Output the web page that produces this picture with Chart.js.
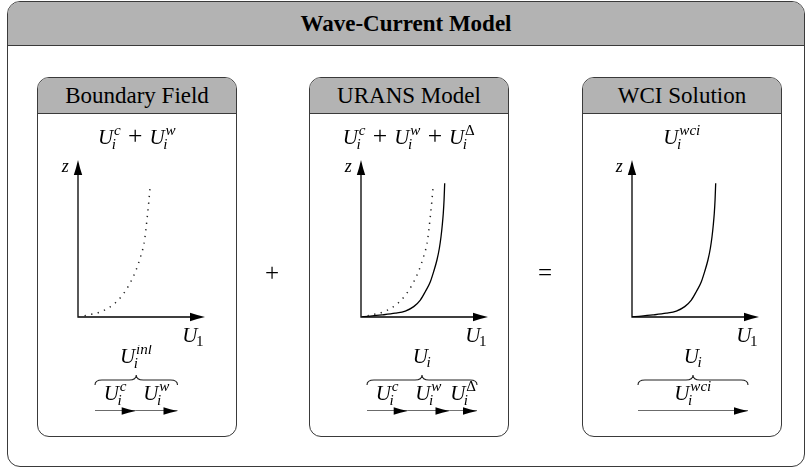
<!DOCTYPE html>
<html>
<head>
<meta charset="utf-8">
<script src="https://cdn.jsdelivr.net/npm/chart.js@4/dist/chart.umd.min.js"></script>
<style>
  html, body { margin: 0; padding: 0; background: #fff; }
  #stage { position: relative; width: 812px; height: 470px; overflow: hidden;
           font-family: "Liberation Serif", "DejaVu Serif", serif; color: #000; }
  .box { position: absolute; box-sizing: border-box; border: 1.3px solid #3a3a3a;
         border-radius: 12px; overflow: hidden; background: #fff; }
  .box .head { position: absolute; left: 0; right: 0; top: 0; box-sizing: border-box;
               background: #b3b3b3; border-bottom: 1.3px solid #3a3a3a; text-align: center; color: #000; }
  #frame { left: 7px; top: 1px; width: 798px; height: 466px; border-radius: 13px; }
  #frame .head { height: 44px; line-height: 44px; font-size: 23px; font-weight: bold; }
  .panel { top: 77px; width: 200px; height: 360px; }
  .panel .head { height: 36px; line-height: 35px; font-size: 23px; }
  canvas { position: absolute; }
</style>
</head>
<body>
<div id="stage">
  <div class="box" id="frame"><div class="head">Wave-Current Model</div></div>
</div>
<script>
// ---- content -------------------------------------------------------------
const diagramTitle = 'Wave-Current Model';
const panelTitles = ['Boundary Field', 'URANS Model', 'WCI Solution'];
const operators = ['+', '='];

// velocity profiles U1(z), normalised to the axis length
const boundaryU = [0, 0.081, 0.181, 0.273, 0.352, 0.409, 0.457, 0.491, 0.520, 0.535, 0.546, 0.557, 0.567];
const boundaryZ = [0, 0.013, 0.034, 0.076, 0.142, 0.215, 0.299, 0.380, 0.469, 0.559, 0.643, 0.731, 0.820];
const wciU = [0, 0.165, 0.270, 0.349, 0.415, 0.467, 0.506, 0.546, 0.572, 0.598, 0.617, 0.630, 0.640, 0.648, 0.654, 0.659];
const wciZ = [0, 0.013, 0.024, 0.038, 0.066, 0.108, 0.161, 0.225, 0.289, 0.363, 0.438, 0.511, 0.586, 0.661, 0.745, 0.852];

// velocity components added up in each panel
const boundaryParts = [0.37, 0.38];
const boundaryPartNames = ['c', 'w'];
const uransParts = [0.37, 0.38, 0.25];
const uransPartNames = ['c', 'w', '\u0394'];
const wciParts = [1.0];
const wciPartNames = ['wci'];
const totalNames = ['inl', null, null];

// ---- layout --------------------------------------------------------------
const FONT = '"Liberation Serif", "DejaVu Serif", serif';
const MATH = 21;
const panelLeft = [37, 309, 582];
const axisLeft = [78, 361, 632];
const vectorLeft = [95, 367, 638];
const opCenters = [[272, 274], [545, 274]];

const stage = document.getElementById('stage');
document.querySelector('#frame .head').textContent = diagramTitle;

panelTitles.forEach((t, i) => {
  const p = document.createElement('div');
  p.className = 'box panel';
  p.style.left = panelLeft[i] + 'px';
  const h = document.createElement('div');
  h.className = 'head';
  h.textContent = t;
  p.appendChild(h);
  stage.appendChild(p);
});

// ---- math text on canvas -------------------------------------------------
function fontFor(txt, size) {
  return (/[A-Za-z]/.test(txt) ? 'italic ' : '') + size + 'px ' + FONT;
}
function layoutMath(ctx, tokens, size) {
  const s = size * 0.72, items = [];
  let x = 0;
  for (const t of tokens) {
    if (t.op) {
      ctx.font = (size * 1.22) + 'px ' + FONT;
      const w = ctx.measureText(t.op).width, g = size * 0.33;
      items.push({ text: t.op, font: ctx.font, x: x + g, dy: 0 });
      x += w + 2 * g;
      continue;
    }
    ctx.font = fontFor(t.b, size);
    const wb = ctx.measureText(t.b).width;
    items.push({ text: t.b, font: ctx.font, x: x, dy: 0 });
    let end = x + wb;
    if (t.sup) {
      ctx.font = fontFor(t.sup, s);
      const sx = x + wb + size * 0.04;
      items.push({ text: t.sup, font: ctx.font, x: sx, dy: -size * 0.42 });
      end = Math.max(end, sx + ctx.measureText(t.sup).width);
    }
    if (t.sub) {
      ctx.font = fontFor(t.sub, s);
      const sx = x + wb - size * 0.07;
      items.push({ text: t.sub, font: ctx.font, x: sx, dy: t.sup ? size * 0.26 : size * 0.18 });
      end = Math.max(end, sx + ctx.measureText(t.sub).width);
    }
    x = end + size * 0.02;
  }
  return { items, width: x };
}
function drawMath(ctx, tokens, x, baseline, size, align) {
  const L = layoutMath(ctx, tokens, size);
  const x0 = align === 'right' ? x - L.width : x - L.width / 2;
  ctx.save();
  ctx.fillStyle = '#000';
  ctx.textAlign = 'left';
  ctx.textBaseline = 'alphabetic';
  for (const it of L.items) {
    ctx.font = it.font;
    ctx.fillText(it.text, x0 + it.x, baseline + it.dy);
  }
  ctx.restore();
}
function arrowHead(ctx, tx, ty, dx, dy, len, half) {
  const px = -dy, py = dx;
  ctx.beginPath();
  ctx.moveTo(tx, ty);
  ctx.quadraticCurveTo(tx - dx * len * 0.55 + px * half * 0.45, ty - dy * len * 0.55 + py * half * 0.45,
                       tx - dx * len + px * half, ty - dy * len + py * half);
  ctx.lineTo(tx - dx * len - px * half, ty - dy * len - py * half);
  ctx.quadraticCurveTo(tx - dx * len * 0.55 - px * half * 0.45, ty - dy * len * 0.55 - py * half * 0.45, tx, ty);
  ctx.closePath();
  ctx.fillStyle = '#000';
  ctx.fill();
}

// ---- "+" and "=" between the panels --------------------------------------
operators.forEach((o, i) => {
  const c = document.createElement('canvas');
  c.width = 40; c.height = 40;
  c.style.left = (opCenters[i][0] - 20) + 'px';
  c.style.top = (opCenters[i][1] - 20) + 'px';
  stage.appendChild(c);
  const g = c.getContext('2d');
  g.fillStyle = '#000';
  g.font = '25px ' + FONT;
  g.textAlign = 'center';
  g.textBaseline = 'middle';
  g.fillText(o, 20, 20);
});

// ---- charts --------------------------------------------------------------
function makeCanvas(left, top, w, h) {
  const c = document.createElement('canvas');
  c.width = w; c.height = h;
  c.style.left = left + 'px'; c.style.top = top + 'px';
  c.style.width = w + 'px'; c.style.height = h + 'px';
  stage.appendChild(c);
  return c;
}
function baseOptions(padding) {
  return {
    responsive: false, animation: false, devicePixelRatio: 1, events: [],
    layout: { padding },
    plugins: { legend: { display: false }, tooltip: { enabled: false } },
    scales: {
      x: { type: 'linear', min: 0, max: 1, display: false },
      y: { type: 'linear', min: 0, max: 1, display: false }
    },
    elements: { point: { radius: 0 } }
  };
}
const toPoints = (us, zs) => us.map((u, k) => ({ x: u, y: zs[k] }));
const boundaryLine = () => ({
  data: toPoints(boundaryU, boundaryZ), borderColor: '#222', borderWidth: 1.5,
  borderDash: [1.3, 5.4], cubicInterpolationMode: 'monotone', fill: false
});
const wciLine = () => ({
  data: toPoints(wciU, wciZ), borderColor: '#000', borderWidth: 1.3,
  cubicInterpolationMode: 'monotone', fill: false
});

const formulas = [
  [{ b: 'U', sub: 'i', sup: 'c' }, { op: '+' }, { b: 'U', sub: 'i', sup: 'w' }],
  [{ b: 'U', sub: 'i', sup: 'c' }, { op: '+' }, { b: 'U', sub: 'i', sup: 'w' }, { op: '+' }, { b: 'U', sub: 'i', sup: '\u0394' }],
  [{ b: 'U', sub: 'i', sup: 'wci' }]
];
const profiles = [[boundaryLine()], [boundaryLine(), wciLine()], [wciLine()]];
const parts = [boundaryParts, uransParts, wciParts];
const partNames = [boundaryPartNames, uransPartNames, wciPartNames];

const PW = 200, PT = 114, PH = 240;
for (let i = 0; i < 3; i++) {
  // profile plot: axes with arrow tips at value 1
  const cv = makeCanvas(panelLeft[i], PT, PW, PH);
  const padL = axisLeft[i] - panelLeft[i];
  const formula = formulas[i];
  new Chart(cv, {
    type: 'line',
    data: { datasets: profiles[i] },
    options: baseOptions({ left: padL, right: PW - padL - 127, top: 160 - PT, bottom: PT + PH - 317 }),
    plugins: [{
      id: 'profileAxes',
      beforeDatasetsDraw(chart) {
        const ctx = chart.ctx, xs = chart.scales.x, ys = chart.scales.y;
        const x0 = xs.getPixelForValue(0), y0 = ys.getPixelForValue(0);
        const x1 = xs.getPixelForValue(1), y1 = ys.getPixelForValue(1);
        ctx.save();
        ctx.strokeStyle = '#000'; ctx.lineWidth = 1.3;
        ctx.beginPath();
        ctx.moveTo(x0, y1 + 8); ctx.lineTo(x0, y0); ctx.lineTo(x1 - 8, y0);
        ctx.stroke();
        arrowHead(ctx, x0, y1, 0, -1, 15, 4.2);
        arrowHead(ctx, x1, y0, 1, 0, 15, 4.2);
        ctx.restore();
      },
      afterDraw(chart) {
        const ctx = chart.ctx, xs = chart.scales.x, ys = chart.scales.y;
        const x0 = xs.getPixelForValue(0), y0 = ys.getPixelForValue(0);
        const x1 = xs.getPixelForValue(1), y1 = ys.getPixelForValue(1);
        drawMath(ctx, formula, chart.width / 2, 30, MATH, 'center');
        drawMath(ctx, [{ b: 'z' }], x0 - 9, y1 + 12, 18, 'right');
        drawMath(ctx, [{ b: 'U', sub: '1' }], x1 - 1, y0 + 25, MATH, 'right');
      }
    }]
  });

  // component vectors under a brace
  const vc = makeCanvas(panelLeft[i], 345, PW, 85);
  const vl = vectorLeft[i] - panelLeft[i];
  const comps = parts[i], names = partNames[i], totalSup = totalNames[i];
  let acc = 0;
  const segs = comps.map((v, k) => {
    const s = { data: [{ x: acc, y: 0 }, { x: acc + v, y: 0 }], borderColor: '#3a3a3a',
                borderWidth: 1.4, fill: false, name: names[k] };
    acc += v;
    return s;
  });
  const total = acc;
  new Chart(vc, {
    type: 'line',
    data: { datasets: segs },
    options: baseOptions({ left: vl, right: PW - vl - 110, top: 30, bottom: 19 }),
    plugins: [{
      id: 'vectorDecor',
      afterDatasetsDraw(chart) {
        const ctx = chart.ctx, xs = chart.scales.x, ys = chart.scales.y;
        const L = ys.getPixelForValue(0);
        chart.data.datasets.forEach((ds) => {
          const a = xs.getPixelForValue(ds.data[0].x), b = xs.getPixelForValue(ds.data[1].x);
          arrowHead(ctx, b, L, 1, 0, 14, 3.8);
          drawMath(ctx, [{ b: 'U', sub: 'i', sup: ds.name }], (a + b) / 2, L - 11, MATH, 'center');
        });
        // over-brace spanning the whole sum
        const xa = xs.getPixelForValue(0), xb = xs.getPixelForValue(total), xc = (xa + xb) / 2;
        const yt = L - 36, ym = L - 31, yb = L - 26, r = 7;
        ctx.save();
        ctx.strokeStyle = '#222'; ctx.lineWidth = 1.1;
        ctx.beginPath();
        ctx.moveTo(xa, yb);
        ctx.quadraticCurveTo(xa, ym, xa + r, ym);
        ctx.lineTo(xc - r, ym);
        ctx.quadraticCurveTo(xc, ym, xc, yt);
        ctx.quadraticCurveTo(xc, ym, xc + r, ym);
        ctx.lineTo(xb - r, ym);
        ctx.quadraticCurveTo(xb, ym, xb, yb);
        ctx.stroke();
        ctx.restore();
        const lab = totalSup ? { b: 'U', sub: 'i', sup: totalSup } : { b: 'U', sub: 'i' };
        drawMath(ctx, [lab], xc, L - 48, MATH, 'center');
      }
    }]
  });
}
</script>
</body>
</html>
